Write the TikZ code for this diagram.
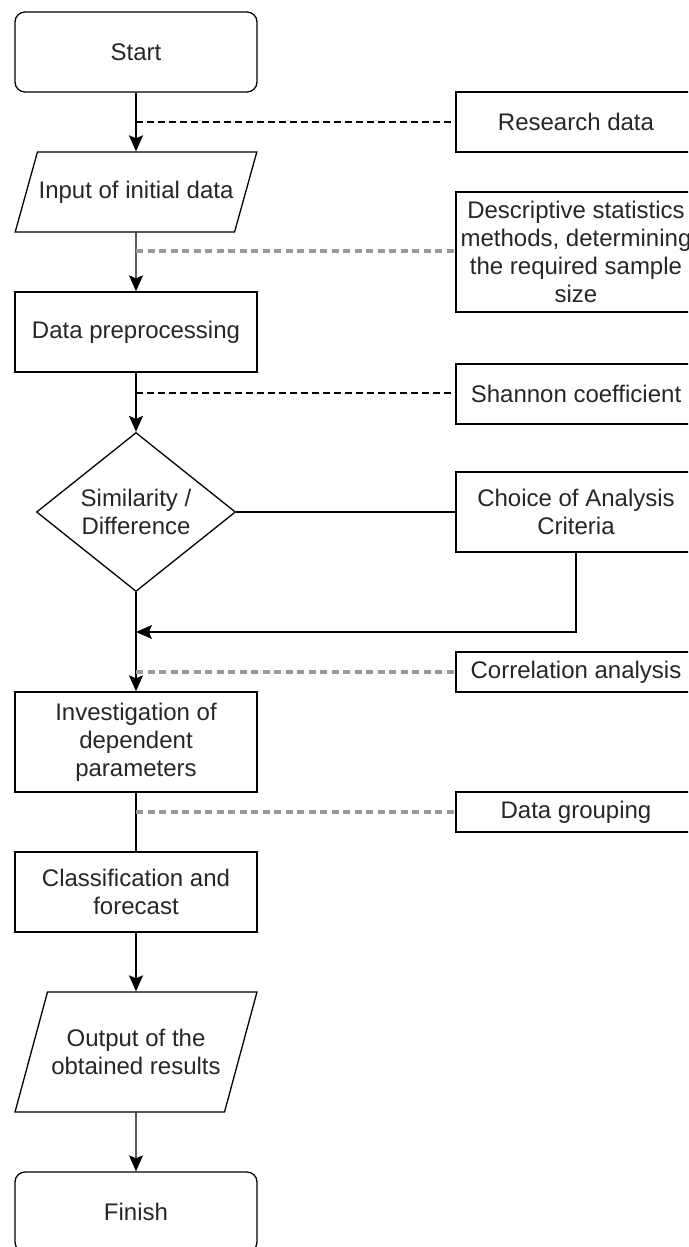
\documentclass[tikz,border=0pt]{standalone}
\usepackage[usenames,dvipsnames]{xcolor}
\usepackage{fontspec}
\setmainfont{Liberation Sans}
\usetikzlibrary{arrows.meta,shapes.geometric}

\begin{document}
\begin{tikzpicture}[x=1pt,y=-1pt]
    \tikzstyle{BaseStyle}=[draw, line width=1.3pt, text=black!85, font=\fontsize{24}{28}\selectfont, align=center, inner sep=2pt]
    \tikzstyle{TermStyle}=[BaseStyle, rectangle, rounded corners=10pt, minimum width=242pt, minimum height=80pt]
    \tikzstyle{StepStyle}=[BaseStyle, rectangle, minimum width=242pt]
    \tikzstyle{NoteStyle}=[BaseStyle, rectangle, minimum width=240pt]
    \tikzstyle{IOStyle}=[BaseStyle, trapezium, trapezium stretches=true, inner xsep=-40pt, inner ysep=1pt, minimum width=242pt]
    \tikzstyle{TestStyle}=[BaseStyle, diamond, aspect=1.25, inner sep=0pt, minimum width=199pt, minimum height=159pt]
    \tikzstyle{FlowStyle}=[line width=1.3pt, -{Stealth[length=16pt,width=14pt,inset=3pt]}]
    \tikzstyle{LinkStyle}=[line width=1.3pt]
    \tikzstyle{HintStyle}=[line width=1.6pt, dash pattern=on 7pt off 4pt]
    \tikzstyle{AuxStyle}=[line width=3.5pt, gray!80, dash pattern=on 7pt off 4.5pt]
    \useasboundingbox (0,0) rectangle (688,1247);
    \clip (0,0) rectangle (688,1247);

    \node[TermStyle] (Start) at (136,52) {Start};
    \node[IOStyle, minimum height=80pt, trapezium left angle=62, trapezium right angle=118] (Input) at (136,192) {Input of initial data};
    \node[StepStyle, minimum height=80pt] (Prep) at (136,332) {Data preprocessing};
    \node[TestStyle] (Sim) at (136,512) {Similarity /\\Difference};
    \node[StepStyle, minimum height=100pt] (Invest) at (136,742) {Investigation of\\dependent\\parameters};
    \node[StepStyle, minimum height=80pt] (Class) at (136,892) {Classification and\\forecast};
    \node[IOStyle, minimum height=120pt, trapezium left angle=71, trapezium right angle=109] (Output) at (136,1052) {Output of the\\obtained results};
    \node[TermStyle] (Finish) at (136,1212) {Finish};

    \node[NoteStyle, minimum height=60pt] (Research) at (576,122) {Research data};
    \node[NoteStyle, minimum height=120pt] (Descr) at (576,252) {Descriptive statistics\\methods, determining\\the required sample\\size};
    \node[NoteStyle, minimum height=60pt] (Shannon) at (576,394) {Shannon coefficient};
    \node[NoteStyle, minimum height=80pt] (Choice) at (576,512) {Choice of Analysis\\Criteria};
    \node[NoteStyle, minimum height=40pt] (Corr) at (576,672) {Correlation analysis};
    \node[NoteStyle, minimum height=40pt] (Group) at (576,812) {Data grouping};

    \coordinate (h1) at (136,122);
    \coordinate (h2) at (136,251);
    \coordinate (h3) at (136,393);
    \coordinate (h4) at (136,672);
    \coordinate (h5) at (136,812);
    \coordinate (Join) at (136,632);

    \draw[FlowStyle] (Start) -- (Input);
    \draw[FlowStyle] (Input) -- (Prep);
    \draw[FlowStyle] (Prep) -- (Sim);
    \draw[LinkStyle] (Sim) -- (Choice);
    \draw[FlowStyle] (Choice.south) |- (Join);
    \draw[FlowStyle] (Sim) -- (Invest);
    \draw[LinkStyle] (Invest) -- (Class);
    \draw[FlowStyle] (Class) -- (Output);
    \draw[FlowStyle] (Output) -- (Finish);

    \draw[HintStyle] (h1) -- (Research.west |- h1);
    \draw[AuxStyle] (h2) -- (Descr.west |- h2);
    \draw[HintStyle] (h3) -- (Shannon.west |- h3);
    \draw[AuxStyle] (h4) -- (Corr.west);
    \draw[AuxStyle] (h5) -- (Group.west);
\end{tikzpicture}
\end{document}
